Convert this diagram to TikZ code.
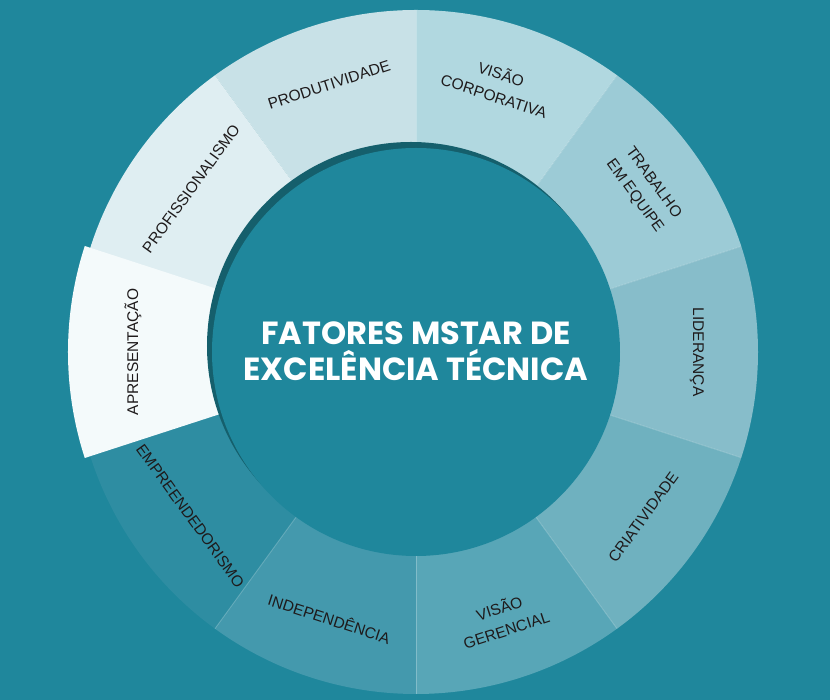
\documentclass[tikz,border=0pt]{standalone}
\usepackage{fontspec}
\setmainfont{Liberation Sans}
\newfontfamily\titlefont{Poppins}
\definecolor{bgteal}{HTML}{1F879C}
\definecolor{shadowteal}{HTML}{155F6C}
\definecolor{segA}{HTML}{B1D8E0}
\definecolor{segB}{HTML}{9CCBD6}
\definecolor{segC}{HTML}{87BDCA}
\definecolor{segD}{HTML}{6FB1BF}
\definecolor{segE}{HTML}{58A6B7}
\definecolor{segF}{HTML}{4499AD}
\definecolor{segG}{HTML}{2E8DA2}
\definecolor{segH}{HTML}{F4FAFB}
\definecolor{segI}{HTML}{DFEEF2}
\definecolor{segJ}{HTML}{C8E1E7}
\definecolor{labeltext}{HTML}{1E1A1B}
\begin{document}
\begin{tikzpicture}[x=1pt,y=1pt,
  seglabel/.style={font=\fontsize{15.5}{23}\selectfont, text=labeltext, align=center, inner sep=0pt},
  sepline/.style={draw=white, draw opacity=0.25, line width=0.8pt}]
\fill[bgteal] (-416,-348) rectangle (414,352);
\useasboundingbox (-416,-348) rectangle (414,352);
% ring segments
\foreach \a/\b/\c in {54/90/segA, 18/54/segB, -18/18/segC, -54/-18/segD, -90/-54/segE, -126/-90/segF, -163/-126/segG, 126/163/segI, 90/126/segJ}
  \fill[\c] (\a:200) arc[start angle=\a,end angle=\b,radius=200] -- (\b:342) arc[start angle=\b,end angle=\a,radius=342] -- cycle;
\fill[segH, shift={(-5,0)}] (162:200) arc[start angle=162,end angle=198,radius=200] -- (198:343) arc[start angle=198,end angle=162,radius=343] -- cycle;
% separators
\foreach \a in {90,54,18,-18,-54,-90,-126}
  \draw[sepline] (\a:204) -- (\a:342);
\draw[sepline] (126:204) -- (126:342);
% inner disc with shadow
\fill[shadowteal] (-5,6) circle[radius=204];
\fill[bgteal] (0,0) circle[radius=204];
% title
\node[font=\titlefont\bfseries\fontsize{32}{36}\selectfont, text=white, align=center] (title) at (0,1) {FATORES MSTAR DE\\EXCELÊNCIA TÉCNICA};
% labels
\node[seglabel, rotate=-18] (visaocorp) at (73:280) {VISÃO\\CORPORATIVA};
\node[seglabel, rotate=-54] (trabalho) at (35.5:280) {TRABALHO\\EM EQUIPE};
\node[seglabel, rotate=-90] (lideranca) at (0:281) {LIDERANÇA};
\node[seglabel, rotate=54] (criatividade) at (-36:281) {CRIATIVIDADE};
\node[seglabel, rotate=18] (visaoger) at (-72:280) {VISÃO\\GERENCIAL};
\node[seglabel, rotate=-18] (independencia) at (-108:280) {INDEPENDÊNCIA};
\node[seglabel, rotate=-54] (empreend) at (-144:279) {EMPREENDEDORISMO};
\node[seglabel, rotate=90] (apresentacao) at (180:283) {APRESENTAÇÃO};
\node[seglabel, rotate=54] (profissionalismo) at (144:278) {PROFISSIONALISMO};
\node[seglabel, rotate=18] (produtividade) at (108:281) {PRODUTIVIDADE};
\end{tikzpicture}
\end{document}
